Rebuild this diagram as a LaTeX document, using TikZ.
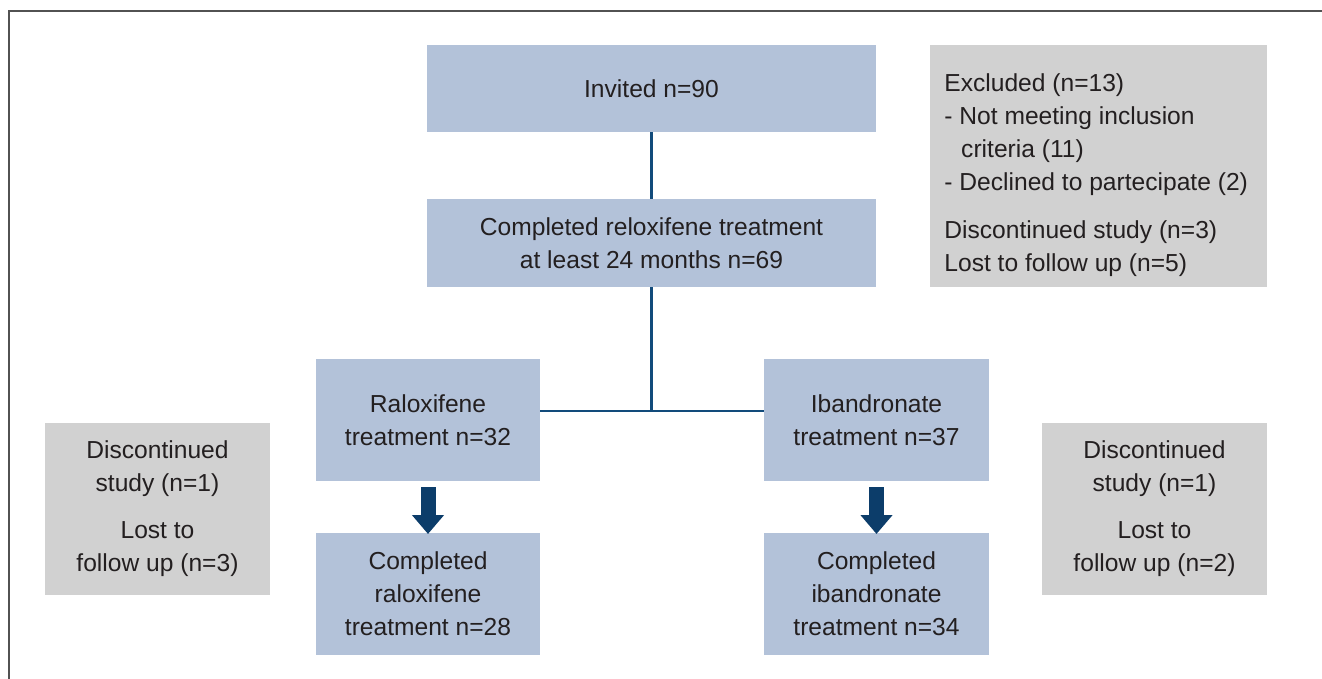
\documentclass[tikz,border=0pt]{standalone}
\usepackage{fontspec}
\setmainfont{Liberation Sans}
\usetikzlibrary{arrows.meta}

\definecolor{boxblue}{HTML}{B3C2D9}
\definecolor{boxgray}{HTML}{D1D1D1}
\definecolor{linkblue}{HTML}{124B7B}
\definecolor{arrowblue}{HTML}{0C3D6A}
\definecolor{txt}{HTML}{231F20}

\tikzset{
  flowbox/.style={fill=boxblue, draw=none, align=center, text=txt, inner sep=0pt,
    font=\fontsize{12.3}{16.5}\selectfont},
  sidebox/.style={fill=boxgray, draw=none, align=center, text=txt, inner sep=0pt,
    font=\fontsize{12.3}{16.5}\selectfont},
  link/.style={draw=linkblue, line width=1.1pt},
  downarrow/.style={draw=arrowblue, line width=7.5pt,
    -{Triangle[width=15.5pt,length=9.5pt]}},
}

\begin{document}
\begin{tikzpicture}[x=0.5pt,y=-0.5pt]
    \useasboundingbox (0,0) rectangle (1322,679);

		% frame
		\draw [draw=black!68, line width=1pt] (8.5,679) -- (8.5,11.5) -- (1322,11.5);

		% main column
		\node [flowbox, minimum width=224.5pt, minimum height=43.5pt] (invited) at (651.5,88.5) {Invited n=90};
		\node [flowbox, minimum width=224.5pt, minimum height=44pt] (compl) at (651.5,243)
		  {Completed reloxifene treatment\\at least 24 months n=69};

		\node [sidebox, minimum width=168.5pt, minimum height=121pt] (excl) at (1098.5,166) {};
		\node [anchor=north west, align=left, inner sep=0pt, text=txt,
		  font=\fontsize{12.3}{16.5}\selectfont] (excltxt) at (944,73)
		  {Excluded (n=13)\\
		   - Not meeting inclusion\\
		   \hspace*{8.4pt}criteria (11)\\
		   - Declined to partecipate (2)\\[7.5pt]
		   Discontinued study (n=3)\\
		   Lost to follow up (n=5)};

		% two arms
		\node [flowbox, minimum width=112pt, minimum height=61pt] (ralox) at (428,420)
		  {Raloxifene\\treatment n=32};
		\node [flowbox, minimum width=112.5pt, minimum height=61pt] (iband) at (876.5,420)
		  {Ibandronate\\treatment n=37};

		\node [flowbox, minimum width=112pt, minimum height=61pt] (complR) at (428,594)
		  {Completed\\raloxifene\\treatment n=28};
		\node [flowbox, minimum width=112.5pt, minimum height=61pt] (complI) at (876.5,594)
		  {Completed\\ibandronate\\treatment n=34};

		\node [sidebox, minimum width=112.5pt, minimum height=86pt] (discL) at (157.5,509)
		  {Discontinued\\study (n=1)\\[7pt]Lost to\\follow up (n=3)};
		\node [sidebox, minimum width=112.5pt, minimum height=86pt] (discR) at (1154.5,509)
		  {Discontinued\\study (n=1)\\[7pt]Lost to\\follow up (n=2)};

		% connectors
		\coordinate (split) at (651.5,411);
		\draw [link] (invited) -- (compl);
		\draw [link] (compl.south) -- (split);
		\draw [link] (ralox.east |- split) -- (iband.west |- split);

		\draw [downarrow] ([yshift=-3pt]ralox.south) -- ([yshift=-0.7pt]complR.north);
		\draw [downarrow] ([yshift=-3pt]iband.south) -- ([yshift=-0.7pt]complI.north);
\end{tikzpicture}
\end{document}
